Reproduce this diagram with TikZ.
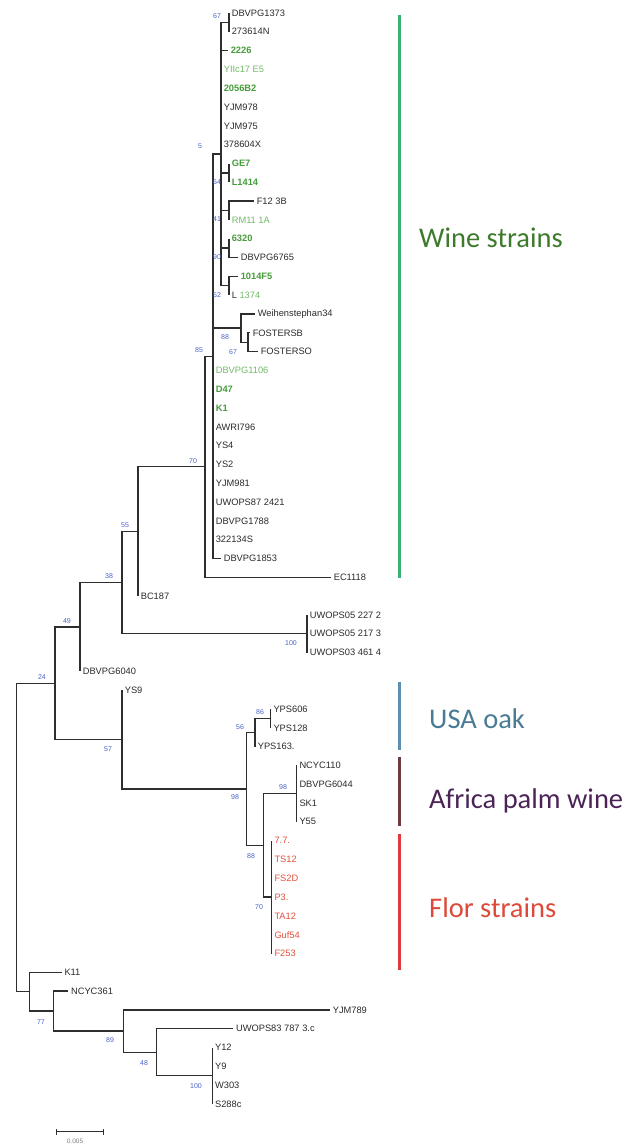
\documentclass[tikz,border=0pt]{standalone}
\usepackage{fontspec}
\setmainfont{Liberation Sans}
\newfontfamily\calib{Carlito}
\definecolor{treegray}{HTML}{2E2E2E}
\definecolor{leafblack}{HTML}{2A2A2A}
\definecolor{gbold}{HTML}{469B3C}
\definecolor{glight}{HTML}{73B969}
\definecolor{florred}{HTML}{E1503C}
\definecolor{bsblue}{HTML}{4A62C8}
\definecolor{winebar}{HTML}{3BB273}
\definecolor{winetext}{HTML}{3D7A2B}
\definecolor{oakbar}{HTML}{5B91B0}
\definecolor{oaktext}{HTML}{4A7B94}
\definecolor{palmbar}{HTML}{6E3C3C}
\definecolor{palmtext}{HTML}{4B2357}
\definecolor{florbar}{HTML}{E03A3A}
\definecolor{flortext}{HTML}{DD4A3A}
\tikzset{
  br/.style={draw=treegray, line width=1.25pt},
  leaf/.style={anchor=west, inner xsep=2.6pt, inner ysep=0pt, font=\fontsize{9.3}{10}\selectfont, text=leafblack},
  gb/.style={leaf, text=gbold, font=\fontsize{9.3}{10}\selectfont\bfseries},
  gl/.style={leaf, text=glight},
  fl/.style={leaf, text=florred},
  bs/.style={font=\fontsize{7}{8}\selectfont, text=bsblue, inner sep=0pt},
  grpbar/.style={line width=3pt},
  grp/.style={anchor=base west, inner sep=0pt, font=\calib\fontsize{28.5}{30}\selectfont},
}
\begin{document}
\begin{tikzpicture}[x=1pt,y=-1pt]
\useasboundingbox (0,0) rectangle (627,1145);
% ---------------- leaves ----------------
\node[leaf] (l1) at (229,13.0) {DBVPG1373};
\node[leaf] (l2) at (229,31.8) {273614N};
\node[gb]   (l3) at (228,50.6) {2226};
\node[gl]   (l4) at (221,69.4) {YIIc17 E5};
\node[gb]   (l5) at (221,88.2) {2056B2};
\node[leaf] (l6) at (221,107.1) {YJM978};
\node[leaf] (l7) at (221,125.9) {YJM975};
\node[leaf] (l8) at (221,144.7) {378604X};
\node[gb]   (l9) at (229,163.5) {GE7};
\node[gb]   (l10) at (229,182.3) {L1414};
\node[leaf] (l11) at (254,201.1) {F12 3B};
\node[gl]   (l12) at (229,219.9) {RM11 1A};
\node[gb]   (l13) at (229,238.7) {6320};
\node[leaf] (l14) at (238,257.5) {DBVPG6765};
\node[gb]   (l15) at (238,276.3) {1014F5};
\node[leaf] (l16) at (229,295.2) {L \textcolor{glight}{1374}};
\node[leaf] (l17) at (255,314.0) {Weihenstephan34};
\node[leaf] (l18) at (250,332.8) {FOSTERSB};
\node[leaf] (l19) at (258,351.6) {FOSTERSO};
\node[gl]   (l20) at (213,370.4) {DBVPG1106};
\node[gb]   (l21) at (213,389.2) {D47};
\node[gb]   (l22) at (213,408.0) {K1};
\node[leaf] (l23) at (213,426.8) {AWRI796};
\node[leaf] (l24) at (213,445.6) {YS4};
\node[leaf] (l25) at (213,464.4) {YS2};
\node[leaf] (l26) at (213,483.3) {YJM981};
\node[leaf] (l27) at (213,502.1) {UWOPS87 2421};
\node[leaf] (l28) at (213,520.9) {DBVPG1788};
\node[leaf] (l29) at (213,539.7) {322134S};
\node[leaf] (l30) at (221,558.5) {DBVPG1853};
\node[leaf] (l31) at (331,577.3) {EC1118};
\node[leaf] (l32) at (138,596.1) {BC187};
\node[leaf] (l33) at (307,614.9) {UWOPS05 227 2};
\node[leaf] (l34) at (307,633.7) {UWOPS05 217 3};
\node[leaf] (l35) at (307,652.5) {UWOPS03 461 4};
\node[leaf] (l36) at (80,671.4) {DBVPG6040};
\node[leaf] (l37) at (122,690.2) {YS9};
\node[leaf] (l38) at (270.7,709.0) {YPS606};
\node[leaf] (l39) at (270.7,727.8) {YPS128};
\node[leaf] (l40) at (255,746.6) {YPS163.};
\node[leaf] (l41) at (296.7,765.4) {NCYC110};
\node[leaf] (l42) at (296.7,784.2) {DBVPG6044};
\node[leaf] (l43) at (296.7,803.0) {SK1};
\node[leaf] (l44) at (296.7,821.8) {Y55};
\node[fl]   (l45) at (271.7,840.6) {7.7.};
\node[fl]   (l46) at (271.7,859.5) {TS12};
\node[fl]   (l47) at (271.7,878.3) {FS2D};
\node[fl]   (l48) at (271.7,897.1) {P3.};
\node[fl]   (l49) at (271.7,915.9) {TA12};
\node[fl]   (l50) at (271.7,934.7) {Guf54};
\node[fl]   (l51) at (271.7,953.5) {F253};
\node[leaf] (l52) at (61.7,972.3) {K11};
\node[leaf] (l53) at (68.3,991.1) {NCYC361};
\node[leaf] (l54) at (330,1009.9) {YJM789};
\node[leaf] (l55) at (233.3,1028.7) {UWOPS83 787 3.c};
\node[leaf] (l56) at (212.3,1047.6) {Y12};
\node[leaf] (l57) at (212.3,1066.4) {Y9};
\node[leaf] (l58) at (212.3,1085.2) {W303};
\node[leaf] (l59) at (212.3,1104.0) {S288c};
% ---------------- internal nodes ----------------
\coordinate (n67) at (229,22.4);
\coordinate (nGE) at (229,172.9);
\coordinate (nF12) at (229,210.5);
\coordinate (n6320) at (229,248.1);
\coordinate (n1014) at (229,285.8);
\coordinate (nA) at (221,154.1);
\coordinate (nF) at (248,342.2);
\coordinate (nW) at (241,328.1);
\coordinate (n5) at (213,356.3);
\coordinate (n70) at (205,466.8);
\coordinate (n55) at (138,531.5);
\coordinate (nU) at (307,633.7);
\coordinate (n38) at (122,582.6);
\coordinate (n49) at (80,627.0);
\coordinate (n86) at (270.7,718.4);
\coordinate (n56) at (255,732.5);
\coordinate (nAf) at (296.7,793.6);
\coordinate (nFl) at (271.7,897.05);
\coordinate (n88) at (263.3,845.3);
\coordinate (n98) at (246.7,788.9);
\coordinate (n57) at (122,739.5);
\coordinate (n24) at (55,683.3);
\coordinate (n100) at (212.3,1075.8);
\coordinate (n48) at (156.7,1052.2);
\coordinate (n89) at (123.3,1031.0);
\coordinate (n77b) at (53.3,1011.0);
\coordinate (n77) at (29.3,991.7);
\coordinate (root) at (16.7,837.5);
% ---------------- branches ----------------
\foreach \c in {l1,l2} \draw[br] (n67) |- (\c.west);
\foreach \c in {l9,l10} \draw[br] (nGE) |- (\c.west);
\foreach \c in {l11,l12} \draw[br] (nF12) |- (\c.west);
\foreach \c in {l13,l14} \draw[br] (n6320) |- (\c.west);
\foreach \c in {l15,l16} \draw[br] (n1014) |- (\c.west);
\foreach \c in {l3,l4,l5,l6,l7,l8} \draw[br] (nA) |- (\c.west);
\foreach \c in {n67,nGE,nF12,n6320,n1014} \draw[br] (nA) |- (\c);
\foreach \c in {l18,l19} \draw[br] (nF) |- (\c.west);
\draw[br] (nW) |- (l17.west);
\draw[br] (nW) |- (nF);
\foreach \c in {nA,nW} \draw[br] (n5) |- (\c);
\foreach \c in {l20,l21,l22,l23,l24,l25,l26,l27,l28,l29,l30} \draw[br] (n5) |- (\c.west);
\draw[br] (n70) |- (n5);
\draw[br] (n70) |- (l31.west);
\draw[br] (n55) |- (n70);
\draw[br] (n55) |- (l32.west);
\foreach \c in {l33,l34,l35} \draw[br] (nU) |- (\c.west);
\draw[br] (n38) |- (n55);
\draw[br] (n38) |- (nU);
\draw[br] (n49) |- (n38);
\draw[br] (n49) |- (l36.west);
\foreach \c in {l38,l39} \draw[br] (n86) |- (\c.west);
\draw[br] (n56) |- (n86);
\draw[br] (n56) |- (l40.west);
\foreach \c in {l41,l42,l43,l44} \draw[br] (nAf) |- (\c.west);
\foreach \c in {l45,l46,l47,l48,l49,l50,l51} \draw[br] (nFl) |- (\c.west);
\draw[br] (n88) |- (nAf);
\draw[br] (n88) |- (nFl);
\draw[br] (n98) |- (n56);
\draw[br] (n98) |- (n88);
\draw[br] (n57) |- (l37.west);
\draw[br] (n57) |- (n98);
\draw[br] (n24) |- (n49);
\draw[br] (n24) |- (n57);
\foreach \c in {l56,l57,l58,l59} \draw[br] (n100) |- (\c.west);
\draw[br] (n48) |- (l55.west);
\draw[br] (n48) |- (n100);
\draw[br] (n89) |- (l54.west);
\draw[br] (n89) |- (n48);
\draw[br] (n77b) |- (l53.west);
\draw[br] (n77b) |- (n89);
\draw[br] (n77) |- (l52.west);
\draw[br] (n77) |- (n77b);
\draw[br] (root) |- (n24);
\draw[br] (root) |- (n77);
% ---------------- bootstrap values ----------------
\node[bs] (b1) at (217,16) {67};
\node[bs] (b2) at (200,146) {5};
\node[bs] (b3) at (217,182) {64};
\node[bs] (b4) at (217,219) {41};
\node[bs] (b5) at (217,257) {90};
\node[bs] (b6) at (217,295) {52};
\node[bs] (b7) at (225,337) {88};
\node[bs] (b8) at (233,352) {67};
\node[bs] (b9) at (199,350) {85};
\node[bs] (b10) at (193,461) {70};
\node[bs] (b11) at (125,525) {55};
\node[bs] (b12) at (109,576) {38};
\node[bs] (b13) at (67,621) {49};
\node[bs] (b14) at (42,677) {24};
\node[bs] (b15) at (291,643) {100};
\node[bs] (b16) at (108,749) {57};
\node[bs] (b17) at (260,712) {86};
\node[bs] (b18) at (240,727) {56};
\node[bs] (b19) at (235,797) {98};
\node[bs] (b20) at (283,787) {98};
\node[bs] (b21) at (251,856) {88};
\node[bs] (b22) at (259,907) {70};
\node[bs] (b23) at (41,1022) {77};
\node[bs] (b24) at (110,1040) {89};
\node[bs] (b25) at (144,1063) {48};
\node[bs] (b26) at (196,1086) {100};
% ---------------- scale bar ----------------
\coordinate (sb1) at (56,1131.7);
\coordinate (sb2) at (103.3,1131.7);
\draw[br, line width=1pt] (sb1) -- (sb2);
\draw[br, line width=1pt] ([yshift=-3pt]sb1) -- ([yshift=3pt]sb1);
\draw[br, line width=1pt] ([yshift=-3pt]sb2) -- ([yshift=3pt]sb2);
\node[font=\fontsize{6.5}{7}\selectfont, text=gray, inner sep=0pt] (sbl) at (75,1141) {0.005};
% ---------------- group bars ----------------
\coordinate (gw1) at (399,15);  \coordinate (gw2) at (399,578);
\coordinate (go1) at (399,682); \coordinate (go2) at (399,750);
\coordinate (gp1) at (399,757); \coordinate (gp2) at (399,826);
\coordinate (gf1) at (399,834); \coordinate (gf2) at (399,970);
\draw[grpbar, draw=winebar] (gw1) -- (gw2);
\draw[grpbar, draw=oakbar] (go1) -- (go2);
\draw[grpbar, draw=palmbar] (gp1) -- (gp2);
\draw[grpbar, draw=florbar] (gf1) -- (gf2);
\node[grp, text=winetext] (tw) at (419,247) {Wine strains};
\node[grp, text=oaktext] (to) at (429,728) {USA oak};
\node[grp, text=palmtext] (tp) at (429,808) {Africa palm wine};
\node[grp, text=flortext] (tf) at (429,917) {Flor strains};
\end{tikzpicture}
\end{document}
